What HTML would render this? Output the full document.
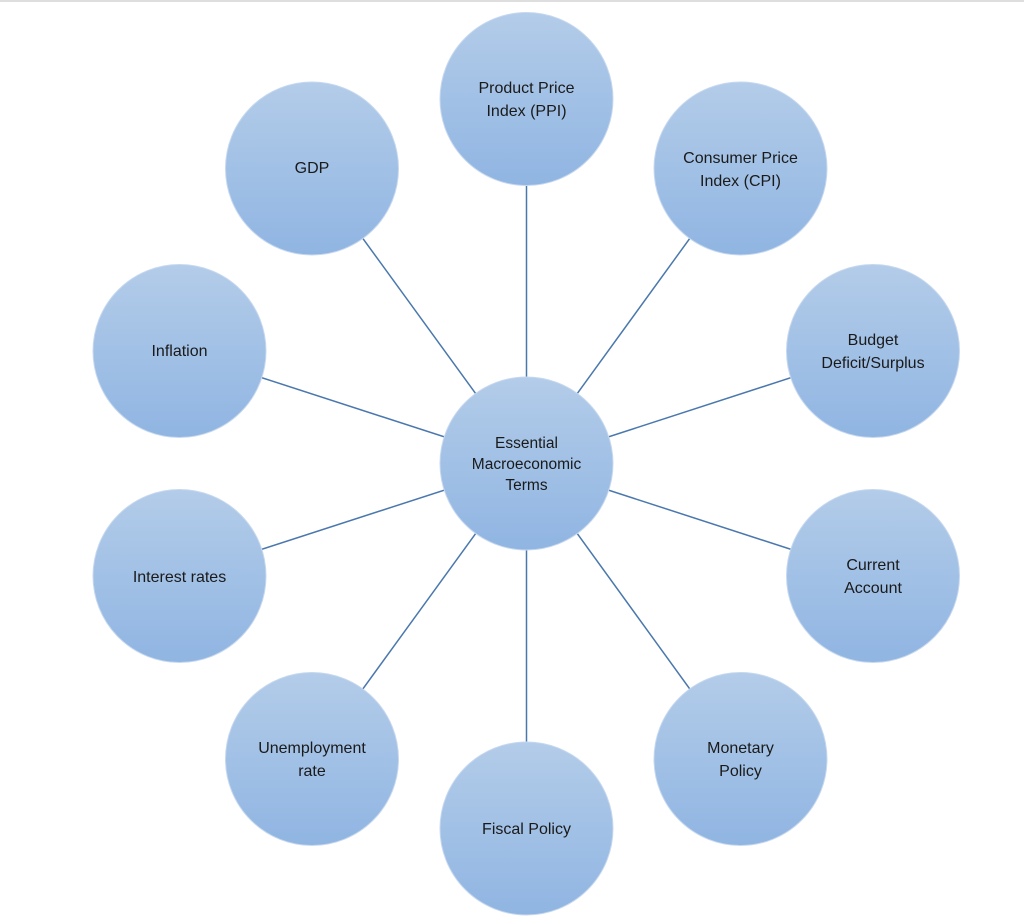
<!DOCTYPE html>
<html>
<head>
<meta charset="utf-8">
<style>
html,body{margin:0;padding:0;background:#fff;}
body{width:1024px;height:924px;overflow:hidden;position:relative;}
.top{position:absolute;left:0;top:0;width:1024px;height:2px;background:#dedede;}
svg{position:absolute;left:0;top:0;}
text{font-family:"Liberation Sans",sans-serif;fill:#1a1a1a;text-anchor:middle;dominant-baseline:central;}
</style>
</head>
<body>
<div class="top"></div>
<svg width="1024" height="924" viewBox="0 0 1024 924" xmlns="http://www.w3.org/2000/svg">
<defs>
<linearGradient id="g" x1="0" y1="0" x2="0" y2="1">
<stop offset="0" stop-color="#b3cce9"/>
<stop offset="1" stop-color="#90b5e2"/>
</linearGradient>
</defs>
<g stroke="#4a78ad" stroke-width="1.5">
<line x1="526.5" y1="463.5" x2="526.5" y2="99"/>
<line x1="526.5" y1="463.5" x2="740.5" y2="168.5"/>
<line x1="526.5" y1="463.5" x2="873" y2="351"/>
<line x1="526.5" y1="463.5" x2="873" y2="576"/>
<line x1="526.5" y1="463.5" x2="740.5" y2="759"/>
<line x1="526.5" y1="463.5" x2="526.5" y2="828.5"/>
<line x1="526.5" y1="463.5" x2="312" y2="759"/>
<line x1="526.5" y1="463.5" x2="179.5" y2="576"/>
<line x1="526.5" y1="463.5" x2="179.5" y2="351"/>
<line x1="526.5" y1="463.5" x2="312" y2="168.5"/>
</g>
<g fill="url(#g)" stroke="#c6d8ef" stroke-width="1">
<circle cx="526.5" cy="463.5" r="86.5"/>
<circle cx="526.5" cy="99" r="86.5"/>
<circle cx="740.5" cy="168.5" r="86.5"/>
<circle cx="873" cy="351" r="86.5"/>
<circle cx="873" cy="576" r="86.5"/>
<circle cx="740.5" cy="759" r="86.5"/>
<circle cx="526.5" cy="828.5" r="86.5"/>
<circle cx="312" cy="759" r="86.5"/>
<circle cx="179.5" cy="576" r="86.5"/>
<circle cx="179.5" cy="351" r="86.5"/>
<circle cx="312" cy="168.5" r="86.5"/>
</g>
<g font-size="15.5">
<text x="526.5" y="443.5">Essential</text>
<text x="526.5" y="464.5">Macroeconomic</text>
<text x="526.5" y="485.5">Terms</text>
</g>
<g font-size="16">
<text x="526.5" y="88.5">Product Price</text>
<text x="526.5" y="111.5">Index (PPI)</text>
<text x="740.5" y="158.5">Consumer Price</text>
<text x="740.5" y="181.5">Index (CPI)</text>
<text x="873" y="340.5">Budget</text>
<text x="873" y="363.5">Deficit/Surplus</text>
<text x="873" y="565.5">Current</text>
<text x="873" y="588.5">Account</text>
<text x="740.5" y="748.5">Monetary</text>
<text x="740.5" y="771.5">Policy</text>
<text x="526.5" y="829.5">Fiscal Policy</text>
<text x="312" y="748.5">Unemployment</text>
<text x="312" y="771.5">rate</text>
<text x="179.5" y="577.5">Interest rates</text>
<text x="179.5" y="351.5">Inflation</text>
<text x="312" y="168.5">GDP</text>
</g>
</svg>
</body>
</html>
